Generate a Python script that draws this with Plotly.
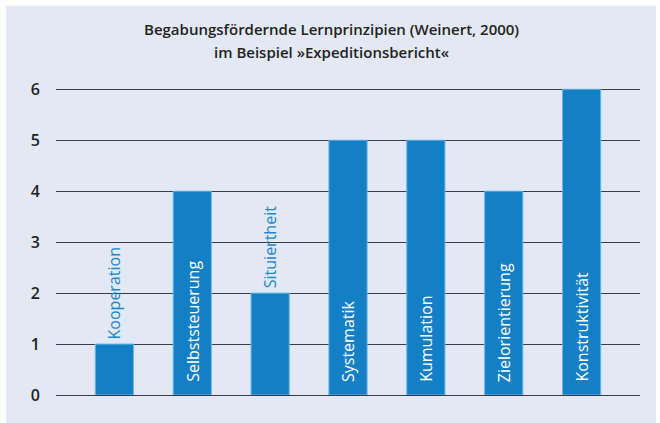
import plotly.graph_objects as go

categories = ["Kooperation", "Selbststeuerung", "Situiertheit", "Systematik",
              "Kumulation", "Zielorientierung", "Konstruktivität"]
values = [1, 4, 2, 5, 5, 4, 6]
y_ticks = [0, 1, 2, 3, 4, 5, 6]
title_lines = ["Begabungsfördernde Lernprinzipien (Weinert, 2000)",
               "im Beispiel »Expeditionsbericht«"]

BAR = "#1380c6"
PANEL = "#e2e9f4"
GRID = "#3a3d42"
FONT = "Open Sans"

W, H = 660, 423
ml, mr, mt, mb = 56, 20, 74, 28
pw, ph = W - ml - mr, H - mt - mb

fig = go.Figure()
fig.add_trace(go.Bar(
    x=categories, y=values, width=0.49,
    marker=dict(color=BAR, line=dict(color="#6cb2e4", width=1)),
    hoverinfo="skip", cliponaxis=False,
))

annotations = []
for c, v in zip(categories, values):
    if v >= 3:
        annotations.append(dict(x=c, y=0, text=c, showarrow=False, textangle=-90,
                                xanchor="center", yanchor="bottom", yshift=11,
                                font=dict(family=FONT, size=16, color="white")))
    else:
        annotations.append(dict(x=c, y=v, text=c, showarrow=False, textangle=-90,
                                xanchor="center", yanchor="bottom", yshift=3,
                                font=dict(family=FONT, size=16, color="#2186cc")))
for line, py in zip(title_lines, [29, 52]):
    annotations.append(dict(xref="paper", yref="paper", x=(331 - ml) / pw,
                            y=(H - mb - py) / ph, text=line, showarrow=False,
                            xanchor="center", yanchor="middle",
                            font=dict(family=FONT, size=15, color="#222", weight=600)))

fig.update_layout(
    width=W, height=H,
    margin=dict(l=ml, r=mr, t=mt, b=mb, pad=0),
    paper_bgcolor="white", plot_bgcolor="rgba(0,0,0,0)",
    showlegend=False, bargap=0.5,
    shapes=[dict(type="rect", xref="paper", yref="paper", layer="below",
                 x0=(6 - ml) / pw, x1=(656 - ml) / pw,
                 y0=(H - mb - 423) / ph, y1=(H - mb - 6) / ph,
                 fillcolor=PANEL, line=dict(width=0))],
    annotations=annotations,
    xaxis=dict(range=[-0.75, 6.75], showticklabels=False, showgrid=False,
               zeroline=False, showline=False, ticks=""),
    yaxis=dict(range=[0, 6.3], tickvals=y_ticks, showgrid=True, gridcolor=GRID,
               gridwidth=1.3, zeroline=True, zerolinecolor=GRID, zerolinewidth=1.3,
               showline=False, ticks="", ticklabelstandoff=15,
               tickfont=dict(family=FONT, size=16, color="#222", weight=600)),
)

fig.write_html("out.html", config={"displayModeBar": False},
               post_script="document.body.style.margin='0';")
